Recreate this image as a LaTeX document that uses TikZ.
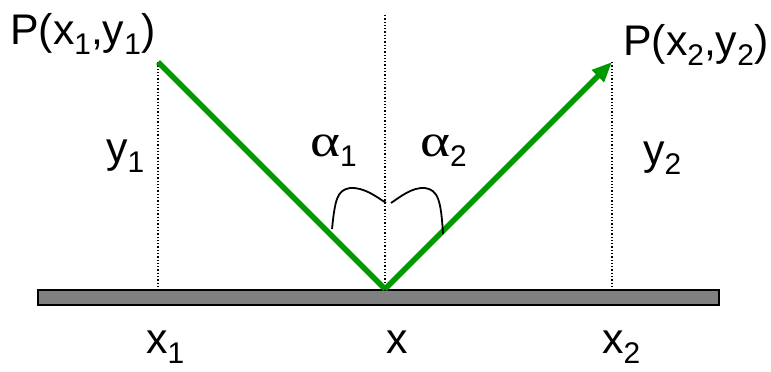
\documentclass[tikz,border=0pt]{standalone}
\usepackage{fontspec}
\setmainfont{Liberation Sans}
\newfontfamily\greekserif{Liberation Serif}
\usetikzlibrary{arrows.meta}
\definecolor{raygreen}{RGB}{0,153,0}
\definecolor{bargray}{RGB}{128,128,128}
\newcommand{\lowsub}[1]{\raisebox{-0.25em}{\fontsize{30}{30}\selectfont #1}}
\newcommand{\widealpha}{{\greekserif\fontsize{46}{46}\selectfont\scalebox{1.25}[1]{α}}}
\begin{document}
\begin{tikzpicture}[x=1bp,y=-1bp,
  lab/.style={font=\fontsize{43}{47}\selectfont, inner sep=0pt},
  ray/.style={draw=raygreen, line width=5.5bp},
  guide/.style={draw=black, dotted, line width=1.3bp},
  anglemark/.style={draw=black, line width=1.8bp}]
\useasboundingbox[fill=white] (0,0) rectangle (771,371);
% ground bar
\node[draw=black, fill=bargray, line width=1.8bp, minimum width=681bp, minimum height=15bp, inner sep=0pt, anchor=north west] (bar) at (37,289) {};
% key points
\coordinate (P1) at (158,62);
\coordinate (O) at (385,289);
\coordinate (P2) at (612,62);
\coordinate (T) at (385,15);
\coordinate (B1) at (158,289);
\coordinate (B2) at (612,289);
% dotted guides
\draw[guide] (P1) -- (B1);
\draw[guide] (T) -- (O);
\draw[guide] (P2) -- (B2);
% rays
\draw[ray] (P1) -- (O);
\draw[ray, -{Triangle[length=20bp,width=16bp]}] (O) -- (P2);
% angle marks
\draw[anglemark] (332,229) .. controls (335,200) and (337,190) .. (350,188) .. controls (364,187) and (377,197) .. (386,203);
\draw[anglemark] (391,203) .. controls (400,197) and (412,187) .. (425,188) .. controls (438,190) and (441,200) .. (443,234);
% labels
\node[lab, anchor=base west] (l1) at (10,44) {P(x\lowsub{1},y\lowsub{1})};
\node[lab, anchor=base west] (l2) at (623,55) {P(x\lowsub{2},y\lowsub{2})};
\node[lab, anchor=base west] (ly1) at (106,162) {y\lowsub{1}};
\node[lab, anchor=base west] (la1) at (310,156) {\widealpha\lowsub{1}};
\node[lab, anchor=base west] (la2) at (420,156) {\widealpha\lowsub{2}};
\node[lab, anchor=base west] (ly2) at (643,164) {y\lowsub{2}};
\node[lab, anchor=base west] (lx1) at (146,353) {x\lowsub{1}};
\node[lab, anchor=base] (lx) at (397,353) {x};
\node[lab, anchor=base west] (lx2) at (602,353) {x\lowsub{2}};
\end{tikzpicture}
\end{document}
